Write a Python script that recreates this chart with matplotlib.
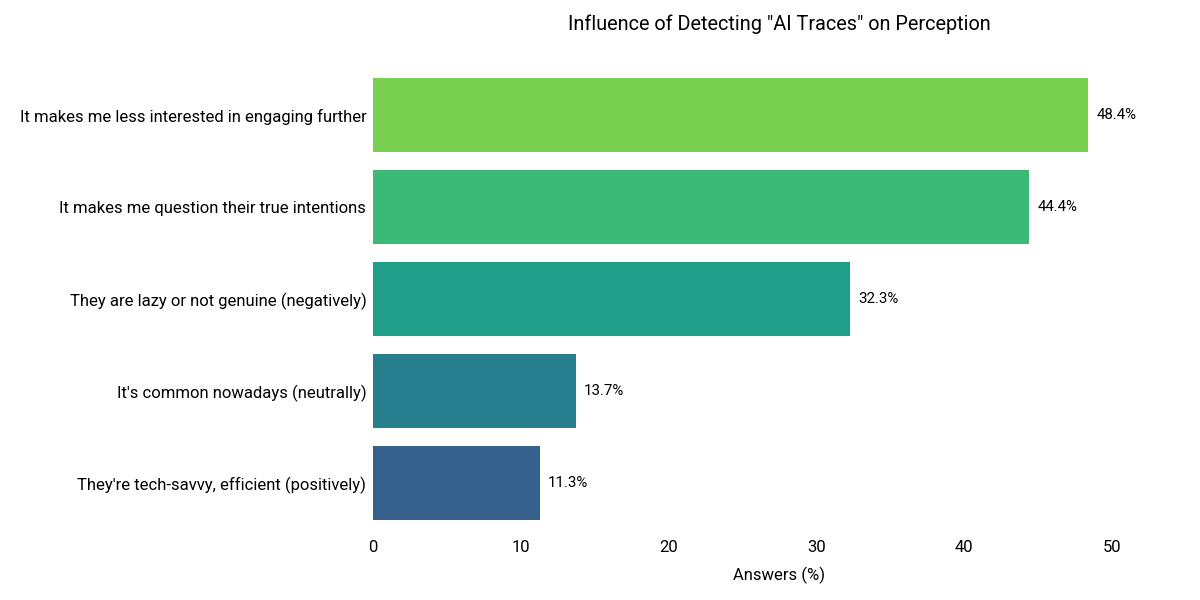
import matplotlib
matplotlib.use("Agg")
import matplotlib.pyplot as plt

plt.rcParams['font.family'] = ['Roboto', 'DejaVu Sans']

# data
categories = [
    "It makes me less interested in engaging further",
    "It makes me question their true intentions",
    "They are lazy or not genuine (negatively)",
    "It's common nowadays (neutrally)",
    "They're tech-savvy, efficient (positively)",
]
values = [48.4, 44.4, 32.3, 13.7, 11.3]
colors = ["#7AD151", "#3BB977", "#1F9E89", "#277F8E", "#355F8D"]

fig = plt.figure(figsize=(12, 6), dpi=100)
ax = fig.add_axes([0.311, 0.118, 0.677, 0.767])

y = range(len(categories))
ax.barh(y, values, height=0.8, color=colors)
ax.set_yticks(list(y))
ax.set_yticklabels(categories, fontsize=12)
ax.set_ylim(len(categories) - 0.5, -0.5)
ax.set_xlim(0, 55)
ax.set_xticks([0, 10, 20, 30, 40, 50])
ax.tick_params(axis='x', labelsize=12, length=0, pad=8)
ax.tick_params(axis='y', length=0, pad=5)

for i, v in enumerate(values):
    ax.text(v + 0.55, i, f"{v}%", va='center', ha='left', fontsize=10.8)

for s in ax.spines.values():
    s.set_visible(False)

ax.set_xlabel("Answers (%)", fontsize=12, labelpad=8)
ax.set_title('Influence of Detecting "AI Traces" on Perception', fontsize=14.3, pad=28)

fig.savefig("out.png", dpi=100)
